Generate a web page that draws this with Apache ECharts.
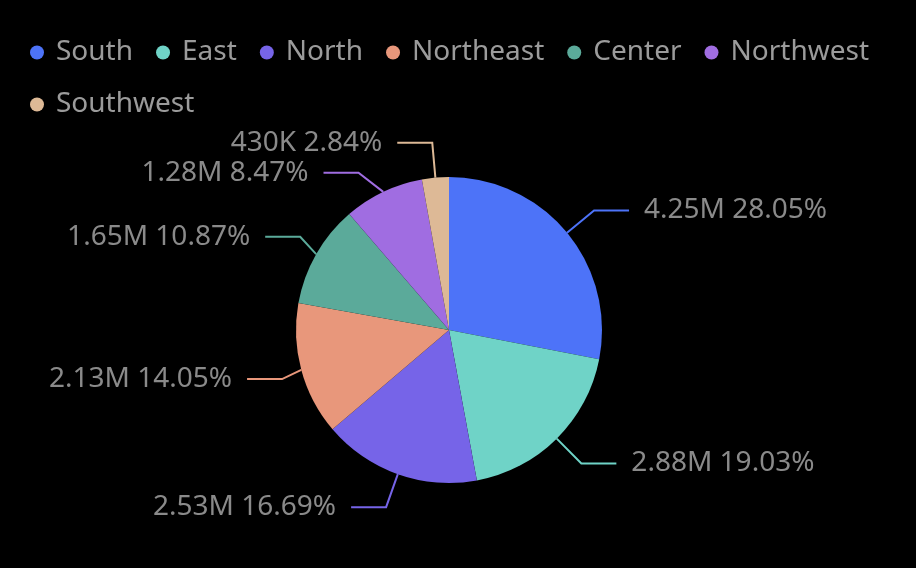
<!DOCTYPE html>
<html><head><meta charset="utf-8">
<script src="https://cdn.jsdelivr.net/npm/echarts@6/dist/echarts.min.js"></script>
<style>html,body{margin:0;padding:0;background:#000;}#c{width:916px;height:568px;}</style>
</head><body><div id="c"></div>
<script>
const categories = ['South','East','North','Northeast','Center','Northwest','Southwest'];
const values = [4250000, 2883000, 2529000, 2128000, 1647000, 1283000, 430000];
const colors = ['#4D73F8','#6FD3C7','#7664E8','#E8977B','#5BAA9A','#A06DE1','#DDB996'];

function fmt(v){
  if (v >= 1e6) return (v/1e6).toFixed(2) + 'M';
  if (v >= 1e3) return Math.round(v/1e3) + 'K';
  return String(v);
}
const chart = echarts.init(document.getElementById('c'));
chart.setOption({
  backgroundColor: '#000',
  color: colors,
  legend: {
    left: 25, top: 33, icon: 'circle', itemWidth: 26, itemHeight: 14,
    itemGap: 23, padding: [5,5,5,5],
    textStyle: { color: '#9b9b9b', fontSize: 28, fontFamily: 'Noto Sans', padding:[0,0,0,1], lineHeight: 29 },
    data: categories
  },
  series: [{
    type: 'pie',
    center: [449, 330],
    radius: [0, 153],
    startAngle: 90,
    data: categories.map((c,i)=>({name:c, value:values[i]})),
    itemStyle: { borderColor: '#000', borderWidth: 0 },
    label: {
      color: '#8a8a8a', fontSize: 28, fontFamily: 'Noto Sans',
      formatter: p => fmt(p.value) + ' ' + p.percent.toFixed(2) + '%',
      distanceToLabelLine: 15
    },
    labelLine: { length: 35, length2: 35, lineStyle: { width: 2 } }
  }]
});
</script></body></html>
